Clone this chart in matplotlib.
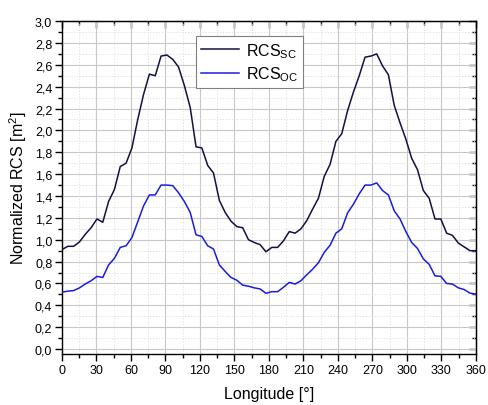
import matplotlib
matplotlib.use('Agg')
import matplotlib.pyplot as plt
from matplotlib.ticker import MultipleLocator, FuncFormatter
import numpy as np

plt.rcParams['font.family'] = ['Liberation Sans', 'DejaVu Sans']
plt.rcParams['mathtext.fontset'] = 'custom'
plt.rcParams['mathtext.rm'] = 'Liberation Sans'
plt.rcParams['mathtext.it'] = 'Liberation Sans'

# 72 samples over one full turn
longitude = np.linspace(0, 360, 72)

rcs_sc = [0.91, 0.94, 0.94, 0.98, 1.05, 1.11, 1.19, 1.16, 1.35, 1.46,
          1.67, 1.70, 1.84, 2.10, 2.33, 2.515, 2.50, 2.68, 2.69, 2.65,
          2.58, 2.41, 2.21, 1.85, 1.84, 1.68, 1.61, 1.36, 1.25, 1.17,
          1.12, 1.11, 1.00, 0.975, 0.955, 0.89, 0.93, 0.93, 0.99, 1.075,
          1.06, 1.10, 1.175, 1.28, 1.38, 1.58, 1.69, 1.90, 1.97, 2.18,
          2.35, 2.50, 2.67, 2.68, 2.70, 2.59, 2.51, 2.23, 2.07, 1.92,
          1.745, 1.64, 1.45, 1.38, 1.19, 1.19, 1.06, 1.04, 0.97, 0.935,
          0.90, 0.90]

rcs_oc = [0.52, 0.53, 0.535, 0.56, 0.595, 0.625, 0.665, 0.655, 0.77, 0.83,
          0.93, 0.945, 1.02, 1.165, 1.31, 1.41, 1.41, 1.50, 1.50, 1.495,
          1.43, 1.35, 1.25, 1.045, 1.03, 0.945, 0.915, 0.77, 0.71, 0.655,
          0.63, 0.585, 0.575, 0.56, 0.55, 0.51, 0.525, 0.525, 0.565, 0.61,
          0.595, 0.625, 0.68, 0.73, 0.79, 0.885, 0.95, 1.06, 1.10, 1.245,
          1.325, 1.42, 1.50, 1.50, 1.52, 1.45, 1.41, 1.265, 1.19, 1.075,
          0.975, 0.92, 0.825, 0.775, 0.67, 0.665, 0.60, 0.595, 0.56, 0.545,
          0.512, 0.503]

fig = plt.figure(figsize=(4.88, 4.06), dpi=100)
ax = fig.add_axes([0.127, 0.1256, 0.848, 0.820])

ax.plot(longitude, rcs_sc, color='#111145', lw=1.1, label=r'RCS$_{\mathrm{SC}}$', zorder=3)
ax.plot(longitude, rcs_oc, color='#1c1ce0', lw=1.1, label=r'RCS$_{\mathrm{OC}}$', zorder=3)

ax.set_xlim(0, 360)
ax.set_ylim(-0.045, 3.0)
ax.xaxis.set_major_locator(MultipleLocator(30))
ax.xaxis.set_minor_locator(MultipleLocator(15))
ax.yaxis.set_major_locator(MultipleLocator(0.2))
ax.yaxis.set_minor_locator(MultipleLocator(0.1))
ax.yaxis.set_major_formatter(FuncFormatter(lambda v, p: ('%.1f' % v).replace('.', ',')))

# grid: solid major, dotted minor
ax.grid(which='major', color='#c8c8c8', lw=0.8, ls='-', zorder=0)
ax.grid(which='minor', color='#dcdcdc', lw=0.6, ls=(0, (1.5, 2)), zorder=0)
ax.set_axisbelow(True)

for s in ax.spines.values():
    s.set_linewidth(1.0)

ax.tick_params(which='major', direction='out', length=5, width=1.0, labelsize=9, pad=2)
ax.tick_params(which='minor', direction='out', length=3, width=1.0)

# mirrored ticks on top/right pointing inward
top = ax.secondary_xaxis('top')
top.xaxis.set_major_locator(MultipleLocator(30))
top.xaxis.set_minor_locator(MultipleLocator(15))
top.tick_params(which='major', direction='in', length=5, width=1.0, labeltop=False)
top.tick_params(which='minor', direction='in', length=3, width=1.0)
right = ax.secondary_yaxis('right')
right.yaxis.set_major_locator(MultipleLocator(0.2))
right.yaxis.set_minor_locator(MultipleLocator(0.1))
right.tick_params(which='major', direction='in', length=5, width=1.0, labelright=False)
right.tick_params(which='minor', direction='in', length=3, width=1.0)

ax.set_xlabel('Longitude [°]', fontsize=11.5, labelpad=7.5)
ax.set_ylabel(r'Normalized RCS [m$^2$]', fontsize=11.5, labelpad=4)

leg = ax.legend(loc='upper left', bbox_to_anchor=(0.324, 0.955), borderaxespad=0,
                fontsize=11.5, fancybox=False, framealpha=1, edgecolor='#808080',
                handlelength=2.4, handletextpad=0.4, borderpad=0.3, labelspacing=0.3)
leg.get_frame().set_linewidth(0.8)

plt.savefig('out.png', dpi=100)
